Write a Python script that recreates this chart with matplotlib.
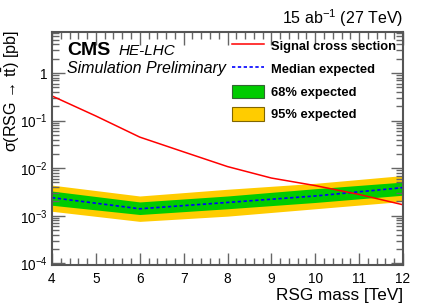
import numpy as np
import matplotlib
matplotlib.use("Agg")
import matplotlib.pyplot as plt
from matplotlib.ticker import MultipleLocator, LogLocator, NullFormatter
from matplotlib.patches import Patch
from matplotlib.lines import Line2D

# ------------ data ------------
mass_sig = [4, 5, 6, 7, 8, 9, 10, 11, 12]
xsec_sig = [0.33, 0.125, 0.045, 0.022, 0.0108, 0.0062, 0.0043, 0.0028, 0.0017]

mass_lim = [4, 6, 8, 10, 12]
median_exp = [0.0024, 0.0014, 0.0019, 0.0026, 0.0039]
exp68_lo = [0.00166, 0.00106, 0.0014, 0.0019, 0.0027]
exp68_hi = [0.0033, 0.00195, 0.0026, 0.0037, 0.0051]
exp95_lo = [0.00124, 0.00076, 0.00098, 0.0014, 0.0020]
exp95_hi = [0.0044, 0.0026, 0.0036, 0.0048, 0.0070]

plt.rcParams['font.family'] = ['Liberation Sans', 'DejaVu Sans']
plt.rcParams['mathtext.fontset'] = 'custom'
plt.rcParams['mathtext.rm'] = 'Liberation Sans'
plt.rcParams['mathtext.it'] = 'Liberation Sans:italic'
plt.rcParams['mathtext.bf'] = 'Liberation Sans:bold'

W, H = 425, 305
fig = plt.figure(figsize=(W / 100, H / 100), dpi=100)
ax = fig.add_axes([52 / W, 1 - 265 / H, 351 / W, 233 / H])

yellow = '#ffcc00'
green = '#00cc00'

ax.fill_between(mass_lim, exp95_lo, exp95_hi, color=yellow, lw=0)
ax.fill_between(mass_lim, exp68_lo, exp68_hi, color=green, lw=0)
ax.plot(mass_lim, median_exp, color='#0000ff', ls=(0, (2, 1.5)), lw=1.2)
ax.plot(mass_sig, xsec_sig, color='#ff0000', lw=1.1)

ax.set_yscale('log')
ax.set_xlim(4, 12)
ax.set_ylim(9.2e-5, 7.3)

ax.xaxis.set_major_locator(MultipleLocator(1))
ax.xaxis.set_minor_locator(MultipleLocator(0.2))
ax.yaxis.set_minor_locator(LogLocator(base=10, subs=np.arange(2, 10), numticks=20))
ax.yaxis.set_minor_formatter(NullFormatter())
ax.set_yticks([1e-4, 1e-3, 1e-2, 1e-1, 1])
ax.set_yticklabels([r'$10^{-4}$', r'$10^{-3}$', r'$10^{-2}$', r'$10^{-1}$', '1'])

ax.tick_params(which='both', direction='in', top=True, right=True, labelsize=9.8, color='#666666')
ax.tick_params(axis='x', pad=5)
ax.tick_params(axis='y', pad=3)
ax.tick_params(which='major', length=9, width=1.0)
ax.tick_params(which='minor', length=5, width=1.0)
for s in ax.spines.values():
    s.set_linewidth(1.5)
    s.set_color('#555555')

fig.text(403 / W, 1 - 300 / H, 'RSG mass [TeV]', ha='right', va='baseline', fontsize=12.3)
fig.text(1 / W, 1 - 30 / H, 'σ(RSG → t' + r'$\bar{\rm t}$' + ') [pb]',
         rotation=90, ha='left', va='top', fontsize=11.6)
fig.text(403 / W, 1 - 24 / H, r'15 ab$^{-1}$ (27 TeV)', ha='right', va='baseline', fontsize=11.5)

fig.text(67 / W, 1 - 55 / H, 'CMS', ha='left', va='baseline', fontsize=14, fontweight='bold')
fig.text(119 / W, 1 - 55 / H, 'HE-LHC', ha='left', va='baseline', fontsize=11, style='italic')
fig.text(67 / W, 1 - 73 / H, 'Simulation Preliminary', ha='left', va='baseline', fontsize=11.5, style='italic')

handles = [
    Line2D([], [], color='#ff0000', lw=1.1),
    Line2D([], [], color='#0000ff', ls=(0, (2, 1.5)), lw=1.2),
    Patch(facecolor=green, edgecolor='#336633', lw=0.8),
    Patch(facecolor=yellow, edgecolor='#806600', lw=0.8),
]
labels = ['Signal cross section', 'Median expected', '68% expected', '95% expected']
leg = fig.legend(handles, labels, loc='upper left', bbox_to_anchor=(232 / W, 1 - 39 / H),
                 frameon=False, borderpad=0, borderaxespad=0,
                 prop={'size': 9.3, 'weight': 'bold'},
                 handlelength=2.5, handleheight=1.2, labelspacing=0.68, handletextpad=0.55)

fig.savefig('out.png', dpi=100)
